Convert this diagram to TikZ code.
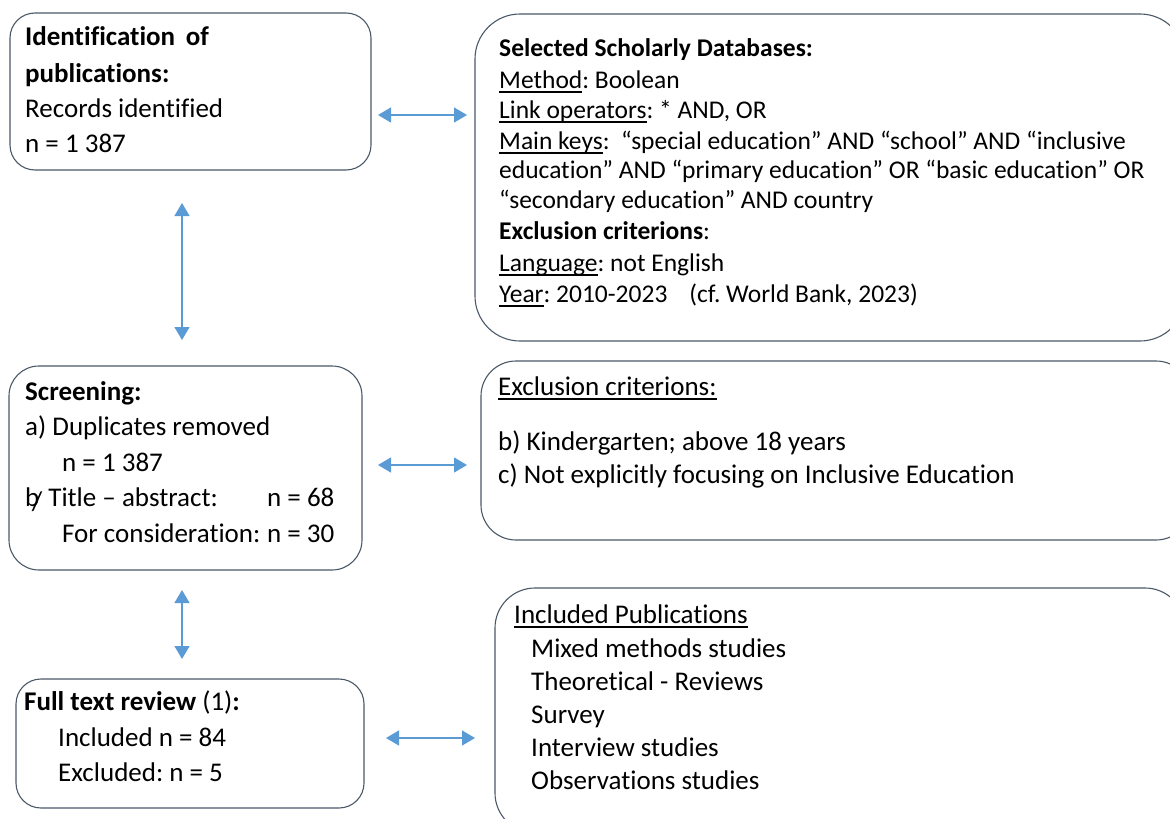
\documentclass[tikz,border=0pt]{standalone}
\usepackage{fontspec}
\setmainfont[Ligatures=NoCommon]{Carlito}
\usetikzlibrary{arrows.meta}
\definecolor{boxline}{HTML}{4A5868}
\definecolor{arrowblue}{HTML}{5B9BD5}
\newcommand\myul[1]{\setbox0\hbox{#1}\rlap{\rule[-4.5pt]{\wd0}{1.2pt}}\box0}
\frenchspacing
\begin{document}
\begin{tikzpicture}[x=1pt,y=-1pt,
  flowbox/.style={draw=boxline, line width=1.1pt, rectangle, inner sep=0pt, outer sep=0pt, anchor=north west},
  txt/.style={anchor=base west, inner sep=0pt, font=\fontsize{27}{30}\selectfont},
  txtr/.style={txt, font=\fontsize{25.5}{30}\selectfont},
  txtl/.style={txt, font=\fontsize{27}{30}\selectfont},
  arr/.style={{Triangle[length=13pt,width=15pt]}-{Triangle[length=13pt,width=15pt]}, color=arrowblue, line width=1.3pt}]
\useasboundingbox (0,0) rectangle (1170,819);

% boxes
\node[flowbox, rounded corners=25pt, minimum width=361pt, minimum height=157pt] (b1) at (10,13) {};
\node[flowbox, rounded corners=45pt, minimum width=710pt, minimum height=327pt] (b2) at (475,14) {};
\node[flowbox, rounded corners=30pt, minimum width=353pt, minimum height=204pt] (b3) at (9,366) {};
\node[flowbox, rounded corners=35pt, minimum width=710pt, minimum height=179pt] (b4) at (481,361) {};
\node[flowbox, rounded corners=25pt, minimum width=348pt, minimum height=129pt] (b5) at (16,679) {};
\node[flowbox, rounded corners=40pt, minimum width=690pt, minimum height=245pt] (b6) at (495,588) {};

% box 1 text
\node[txt] (t1a) at (25,45) {\textbf{Identification\, of}};
\node[txt] (t1b) at (25,82) {\textbf{publications:}};
\node[txt] (t1c) at (25,117) {Records identified};
\node[txt] (t1d) at (25,152) {n = 1 387};

% box 2 text
\node[txtr] (t2a) at (499,56) {\textbf{Selected Scholarly Databases:}};
\node[txtr] (t2b) at (499,88) {\myul{Method}: Boolean};
\node[txtr] (t2c) at (499,118) {\myul{Link operators}: * AND, OR};
\node[txtr] (t2d) at (499,149) {\myul{Main keys}:\ \ “special education” AND “school” AND “inclusive};
\node[txtr] (t2e) at (499,178) {education” AND “primary education” OR “basic education” OR};
\node[txtr] (t2f) at (499,208) {“secondary education” AND country};
\node[txtr] (t2g) at (499,239) {\textbf{Exclusion criterions}:};
\node[txtr] (t2h) at (499,271) {\myul{Language}: not English};
\node[txtr] (t2i) at (499,302) {\myul{Year}: 2010-2023\hspace{22pt}(cf. World Bank, 2023)};

% box 3 text
\node[txt] (t3a) at (25,400) {\textbf{Screening:}};
\node[txt] (t3b) at (25,435) {a) Duplicates removed};
\node[txt] (t3c) at (62,471) {n = 1 387};
\node[txt] (t3d) at (25,506) {\makebox[242pt][l]{b\kern-0.28em\raisebox{-0.18em}{/} Title – abstract:}n = 68};
\node[txt] (t3e) at (62,542) {\makebox[205pt][l]{For consideration:}n = 30};

% box 4 text
\node[txtl] (t4a) at (498,395) {\myul{Exclusion criterions:}};
\node[txtl] (t4b) at (498,450) {b) Kindergarten; above 18 years};
\node[txtl] (t4c) at (498,483) {c) Not explicitly focusing on Inclusive Education};

% box 5 text
\node[txt] (t5a) at (24,710) {\textbf{Full text review} (1)\textbf{:}};
\node[txt] (t5b) at (58,746) {Included n = 84};
\node[txt] (t5c) at (58,781) {Excluded: n = 5};

% box 6 text
\node[txtl] (t6a) at (514,623) {\myul{Included Publications}};
\node[txtl] (t6b) at (531,657) {Mixed methods studies};
\node[txtl] (t6c) at (531,690) {Theoretical - Reviews};
\node[txtl] (t6d) at (531,723) {Survey};
\node[txtl] (t6e) at (531,756) {Interview studies};
\node[txtl] (t6f) at (531,789) {Observations studies};

% arrows
\draw[arr, shorten <=7pt, shorten >=8pt] (b1.east |- 0,115) -- (b2.west |- 0,115);
\draw[arr, shorten <=33pt, shorten >=26pt] (182,0 |- b1.south) -- (182,0 |- b3.north);
\draw[arr, shorten <=16pt, shorten >=14pt] (b3.east |- 0,465) -- (b4.west |- 0,465);
\draw[arr, shorten <=20pt, shorten >=20pt] (182,0 |- b3.south) -- (182,0 |- b5.north);
\draw[arr, shorten <=22pt, shorten >=20pt] (b5.east |- 0,738) -- (b6.west |- 0,738);
\end{tikzpicture}
\end{document}
